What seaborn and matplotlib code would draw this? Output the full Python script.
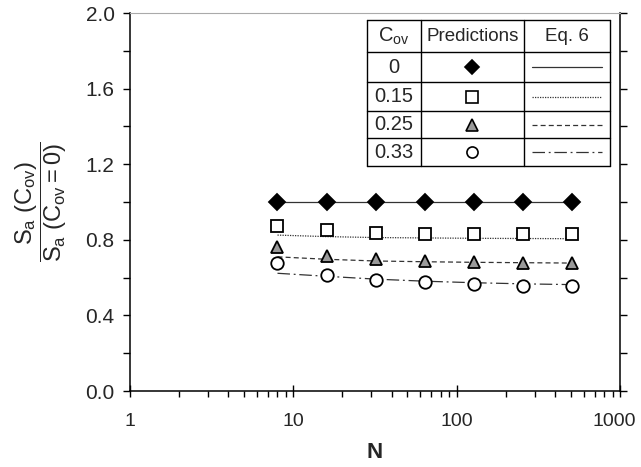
import numpy as np
import pandas as pd
import seaborn as sns
import matplotlib.pyplot as plt
import matplotlib.transforms as mtransforms
from matplotlib.lines import Line2D
from matplotlib.ticker import FixedLocator, MultipleLocator, FormatStrFormatter, LogLocator, NullFormatter

# data
n_values = [8, 16, 32, 64, 128, 256, 512]
cov_labels = ['0', '0.15', '0.25', '0.33']
pred_0 = [1.0, 1.0, 1.0, 1.0, 1.0, 1.0, 1.0]
pred_15 = [0.875, 0.852, 0.838, 0.831, 0.83, 0.83, 0.83]
pred_25 = [0.76, 0.716, 0.697, 0.686, 0.684, 0.68, 0.68]
pred_33 = [0.675, 0.614, 0.587, 0.575, 0.565, 0.556, 0.556]
eq6_0 = [1.0, 1.0, 1.0, 1.0, 1.0, 1.0, 1.0]
eq6_15 = [0.825, 0.817, 0.812, 0.81, 0.808, 0.807, 0.806]
eq6_25 = [0.71, 0.697, 0.688, 0.684, 0.681, 0.679, 0.677]
eq6_33 = [0.623, 0.607, 0.592, 0.581, 0.573, 0.567, 0.563]

preds = [pred_0, pred_15, pred_25, pred_33]
eqs = [eq6_0, eq6_15, eq6_25, eq6_33]
rows = []
for lab, p, e in zip(cov_labels, preds, eqs):
    for n, pv, ev in zip(n_values, p, e):
        rows.append({'N': n, 'C_ov': lab, 'pred': pv, 'eq6': ev})
df = pd.DataFrame(rows)

sns.set_style('ticks')
plt.rcParams['font.family'] = ['Liberation Sans', 'DejaVu Sans']
plt.rcParams['mathtext.fontset'] = 'custom'
plt.rcParams['mathtext.rm'] = 'Liberation Sans'
plt.rcParams['mathtext.it'] = 'Liberation Sans:italic'

face = {'0': 'black', '0.15': 'white', '0.25': '#9a9a9a', '0.33': 'white'}
marks = {'0': 'D', '0.15': 's', '0.25': '^', '0.33': 'o'}
msize = {'0': 8, '0.15': 9, '0.25': 9, '0.33': 9}
dash = {'0': '', '0.15': (1, 1), '0.25': (4, 2.5), '0.33': (10, 3, 1.5, 3)}
line_col = '#333333'

fig = plt.figure(figsize=(6.41, 4.67), dpi=100)
ax = fig.add_axes([0.2028, 0.1627, 0.7644, 0.8094])

sns.lineplot(data=df, x='N', y='eq6', style='C_ov', dashes=dash, color=line_col,
             lw=0.9, legend=False, ax=ax)
for lab in cov_labels:
    sub = df[df['C_ov'] == lab]
    ax.plot(sub['N'], sub['pred'], ls='none', marker=marks[lab], ms=msize[lab],
            mfc=face[lab], mec='black', mew=1.3, zorder=5)

ax.set_xscale('log')
ax.set_xlim(1, 1000)
ax.set_ylim(0, 2.0)
ax.xaxis.set_major_locator(FixedLocator([1, 10, 100, 1000]))
ax.set_xticklabels(['1', '10', '100', '1000'])
ax.xaxis.set_minor_locator(LogLocator(base=10, subs=np.arange(2, 10)))
ax.xaxis.set_minor_formatter(NullFormatter())
ax.yaxis.set_major_locator(MultipleLocator(0.4))
ax.yaxis.set_minor_locator(MultipleLocator(0.2))
ax.yaxis.set_major_formatter(FormatStrFormatter('%.1f'))

ax.tick_params(which='major', direction='inout', length=9, width=1, labelsize=15, color='black')
ax.tick_params(which='minor', direction='out', length=4, width=1, color='black')
ax.tick_params(axis='x', which='major', pad=11, labelsize=14)
ax.tick_params(axis='y', which='both', right=True, left=True)
ax.tick_params(axis='y', which='both', direction='out', length=5, pad=6)
for side in ['left', 'bottom', 'right']:
    ax.spines[side].set_color('black')
    ax.spines[side].set_linewidth(1.1)
ax.spines['top'].set_color('#aaaaaa')
ax.spines['top'].set_linewidth(0.8)

# nudge the last x label so it stays inside the canvas
last = ax.get_xticklabels()[-1]
last.set_transform(last.get_transform() + mtransforms.ScaledTranslation(-4 / 72, 0, fig.dpi_scale_trans))

ax.set_xlabel('N', fontsize=16, fontweight='bold')
ax.xaxis.set_label_coords(0.5, -0.135)
ax.set_ylabel(r'$\dfrac{\mathrm{S_a\ (C_{ov})}}{\mathrm{S_a\ (C_{ov} = 0)}}$', fontsize=17)
ax.yaxis.set_label_coords(-0.125, 0.5)

# inset table acting as the legend
def fx(px):
    return (px - 130) / 490.0

def fy(py):
    return (391 - py) / 378.0

col_edges = [367, 421, 524, 610]
row_edges = [20, 52, 82, 111, 138, 166]
tr = ax.transAxes
for cx in col_edges:
    ax.add_line(Line2D([fx(cx)] * 2, [fy(row_edges[0]), fy(row_edges[-1])], transform=tr,
                       color='black', lw=1, clip_on=False, zorder=6))
for ry in row_edges:
    ax.add_line(Line2D([fx(col_edges[0]), fx(col_edges[-1])], [fy(ry)] * 2, transform=tr,
                       color='black', lw=1, clip_on=False, zorder=6))
ax.add_patch(plt.Rectangle((fx(367), fy(166)), fx(610) - fx(367), fy(20) - fy(166),
                           transform=tr, facecolor='white', edgecolor='none', zorder=4))

cx1, cx2, cx3 = (367 + 421) / 2, (421 + 524) / 2, (524 + 610) / 2
hy = (20 + 52) / 2
fs_tab = 13.5
ax.text(fx(cx1), fy(hy), r'C$_{\mathrm{ov}}$', transform=tr, ha='center', va='center', fontsize=fs_tab + 1, zorder=7)
ax.text(fx(cx2), fy(hy), 'Predictions', transform=tr, ha='center', va='center', fontsize=fs_tab, zorder=7)
ax.text(fx(cx3), fy(hy), 'Eq. 6', transform=tr, ha='center', va='center', fontsize=fs_tab, zorder=7)
for i, lab in enumerate(cov_labels):
    yc = fy((row_edges[i + 1] + row_edges[i + 2]) / 2)
    ax.text(fx(cx1), yc, lab, transform=tr, ha='center', va='center', fontsize=fs_tab + 1, zorder=7)
    ax.plot([fx(cx2)], [yc], transform=tr, ls='none', marker=marks[lab], ms=msize[lab] - 1,
            mfc=face[lab], mec='black', mew=1.2, clip_on=False, zorder=7)
    ln = Line2D([fx(532), fx(602)], [yc, yc], transform=tr, color=line_col, lw=0.9,
                clip_on=False, zorder=7)
    if dash[lab]:
        ln.set_dashes(dash[lab])
    ax.add_line(ln)

fig.savefig('out.png', dpi=100)
